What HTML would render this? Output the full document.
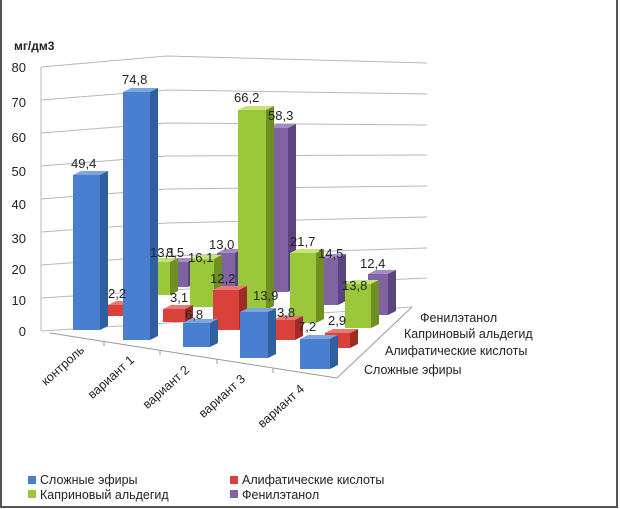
<!DOCTYPE html>
<html><head><meta charset="utf-8"><style>
html,body{margin:0;padding:0;background:#fff}
svg{display:block}
text{font-family:"Liberation Sans","DejaVu Sans",sans-serif;fill:#222}
</style></head><body>
<svg width="620" height="509" viewBox="0 0 620 509" xmlns="http://www.w3.org/2000/svg">
<rect x="0" y="0" width="620" height="509" fill="#fff"/>
<rect x="1" y="-2" width="616" height="509" fill="none" stroke="#555" stroke-width="2"/>
<text x="14" y="50" font-size="12" font-weight="bold">мг/дм3</text>
<g font-size="13" text-anchor="end">
<text x="26" y="72">80</text><text x="26" y="107">70</text><text x="26" y="142">60</text><text x="26" y="176">50</text><text x="26" y="209">40</text><text x="26" y="243">30</text><text x="26" y="274">20</text><text x="26" y="305">10</text><text x="26" y="336">0</text>
</g>
<g stroke="#b8b8b8" stroke-width="1" fill="none">
<line x1="41" y1="67" x2="41" y2="331"/>
<polyline points="41,67 167,56 427,63"/>
<polyline points="41,100 167,90 427,94"/>
<polyline points="41,133 167,123 427,125"/>
<polyline points="41,166 167,156 427,155"/>
<polyline points="41,199 167,189 427,186"/>
<polyline points="41,232 167,223 427,217"/>
<polyline points="41,265 167,256 427,248"/>
<polyline points="41,298 167,290 427,278"/>
<polyline points="41,331 167,323 412,307"/>
<line x1="50" y1="333" x2="337" y2="378" stroke="#999"/>
<line x1="337" y1="378" x2="412" y2="307" stroke="#999"/>
<line x1="104" y1="341" x2="104" y2="346" stroke="#999"/>
<line x1="160" y1="350" x2="160" y2="355" stroke="#999"/>
<line x1="217" y1="359" x2="217" y2="364" stroke="#999"/>
<line x1="273" y1="368" x2="273" y2="373" stroke="#999"/>
</g>
<g id="bars" stroke="none"></g>
<!-- purple -->
<g>
<polygon points="170,262 178,258 196,258 188,262" fill="#a48cc4"/><rect x="170" y="262" width="18" height="25" fill="#8064a2"/><polygon points="188,262 196,258 196,283 188,287" fill="#5b4480"/>
<polygon points="217,253 225,249 243,249 235,253" fill="#a48cc4"/><rect x="217" y="253" width="18" height="37" fill="#8064a2"/><polygon points="235,253 243,249 243,286 235,290" fill="#5b4480"/>
<polygon points="268,128 276,124 296,124 288,128" fill="#a48cc4"/><rect x="268" y="128" width="20" height="164" fill="#8064a2"/><polygon points="288,128 296,124 296,288 288,292" fill="#5b4480"/>
<polygon points="320,258 328,254 346,254 338,258" fill="#a48cc4"/><rect x="320" y="258" width="18" height="47" fill="#8064a2"/><polygon points="338,258 346,254 346,301 338,305" fill="#5b4480"/>
<polygon points="368,274 376,270 396,270 388,274" fill="#a48cc4"/><rect x="368" y="274" width="20" height="41" fill="#8064a2"/><polygon points="388,274 396,270 396,311 388,315" fill="#5b4480"/>
</g>
<!-- green -->
<g>
<polygon points="150,262 158,258 178,258 170,262" fill="#c6e37a"/><rect x="150" y="262" width="20" height="33" fill="#9bc83a"/><polygon points="170,262 178,258 178,291 170,295" fill="#6f8f22"/>
<polygon points="190,259 198,255 222,255 214,259" fill="#c6e37a"/><rect x="190" y="259" width="24" height="48" fill="#9bc83a"/><polygon points="214,259 222,255 222,303 214,307" fill="#6f8f22"/>
<polygon points="238,110 246,106 274,106 266,110" fill="#c6e37a"/><rect x="238" y="110" width="28" height="200" fill="#9bc83a"/><polygon points="266,110 274,106 274,306 266,310" fill="#6f8f22"/>
<polygon points="290,253 298,249 324,249 316,253" fill="#c6e37a"/><rect x="290" y="253" width="26" height="70" fill="#9bc83a"/><polygon points="316,253 324,249 324,319 316,323" fill="#6f8f22"/>
<polygon points="345,284 353,280 379,280 371,284" fill="#c6e37a"/><rect x="345" y="284" width="26" height="44" fill="#9bc83a"/><polygon points="371,284 379,280 379,324 371,328" fill="#6f8f22"/>
</g>
<!-- red -->
<g>
<polygon points="108,305 116,301 136,301 128,305" fill="#e87a73"/><rect x="108" y="305" width="20" height="11" fill="#d9413a"/><polygon points="128,305 136,301 136,312 128,316" fill="#a02c28"/>
<polygon points="163,309 171,305 193,305 185,309" fill="#e87a73"/><rect x="163" y="309" width="22" height="13" fill="#d9413a"/><polygon points="185,309 193,305 193,318 185,322" fill="#a02c28"/>
<polygon points="213,290 221,286 247,286 239,290" fill="#e87a73"/><rect x="213" y="290" width="26" height="40" fill="#d9413a"/><polygon points="239,290 247,286 247,326 239,330" fill="#a02c28"/>
<polygon points="273,320 281,316 303,316 295,320" fill="#e87a73"/><rect x="273" y="320" width="22" height="20" fill="#d9413a"/><polygon points="295,320 303,316 303,336 295,340" fill="#a02c28"/>
<polygon points="325,333 333,329 358,329 350,333" fill="#e87a73"/><rect x="325" y="333" width="25" height="15" fill="#d9413a"/><polygon points="350,333 358,329 358,344 350,348" fill="#a02c28"/>
</g>
<!-- blue -->
<g>
<polygon points="73,175 81,171 108,171 100,175" fill="#7aa6e0"/><rect x="73" y="175" width="27" height="155" fill="#4a7fcf"/><polygon points="100,175 108,171 108,326 100,330" fill="#2f5f9f"/>
<polygon points="123,92 131,88 158,88 150,92" fill="#7aa6e0"/><rect x="123" y="92" width="27" height="248" fill="#4a7fcf"/><polygon points="150,92 158,88 158,336 150,340" fill="#2f5f9f"/>
<polygon points="183,323 191,319 218,319 210,323" fill="#7aa6e0"/><rect x="183" y="323" width="27" height="24" fill="#4a7fcf"/><polygon points="210,323 218,319 218,343 210,347" fill="#2f5f9f"/>
<polygon points="240,312 248,308 276,308 268,312" fill="#7aa6e0"/><rect x="240" y="312" width="28" height="46" fill="#4a7fcf"/><polygon points="268,312 276,308 276,354 268,358" fill="#2f5f9f"/>
<polygon points="300,339 308,335 338,335 330,339" fill="#7aa6e0"/><rect x="300" y="339" width="30" height="30" fill="#4a7fcf"/><polygon points="330,339 338,335 338,365 330,369" fill="#2f5f9f"/>
</g>
<g font-size="13">
<text x="71" y="168">49,4</text><text x="122" y="84">74,8</text>
<text x="234" y="102">66,2</text><text x="268" y="120">58,3</text>
<text x="150" y="257">13,1</text><text x="166" y="257">8,5</text>
<text x="188" y="262">16,1</text><text x="209" y="249">13,0</text>
<text x="108" y="298">2,2</text><text x="170" y="302">3,1</text>
<text x="185" y="319">6,8</text><text x="210" y="283">12,2</text>
<text x="253" y="300">13,9</text><text x="290" y="246">21,7</text>
<text x="318" y="258">14,5</text><text x="277" y="317">3,8</text>
<text x="298" y="331">7,2</text><text x="360" y="268">12,4</text>
<text x="342" y="290">13,8</text><text x="328" y="325">2,9</text>
</g>
<g font-size="12.5">
<text x="420" y="322">Фенилэтанол</text>
<text x="404" y="338">Каприновый альдегид</text>
<text x="385" y="355">Алифатические кислоты</text>
<text x="364" y="374">Сложные эфиры</text>
</g>
<g font-size="12.5" text-anchor="end">
<text transform="translate(85,351) rotate(-42)">контроль</text>
<text transform="translate(135,361) rotate(-42)">вариант 1</text>
<text transform="translate(190,371) rotate(-42)">вариант 2</text>
<text transform="translate(246,380) rotate(-42)">вариант 3</text>
<text transform="translate(305,390) rotate(-42)">вариант 4</text>
</g>
<g font-size="12.5">
<rect x="28" y="476" width="8" height="8" fill="#4a7fcf"/><text x="40" y="484">Сложные эфиры</text>
<rect x="230" y="476" width="8" height="8" fill="#d9413a"/><text x="242" y="484">Алифатические кислоты</text>
<rect x="28" y="490" width="8" height="8" fill="#9bc83a"/><text x="40" y="499">Каприновый альдегид</text>
<rect x="230" y="490" width="8" height="8" fill="#8064a2"/><text x="242" y="499">Фенилэтанол</text>
</g>
</svg>
</body></html>
